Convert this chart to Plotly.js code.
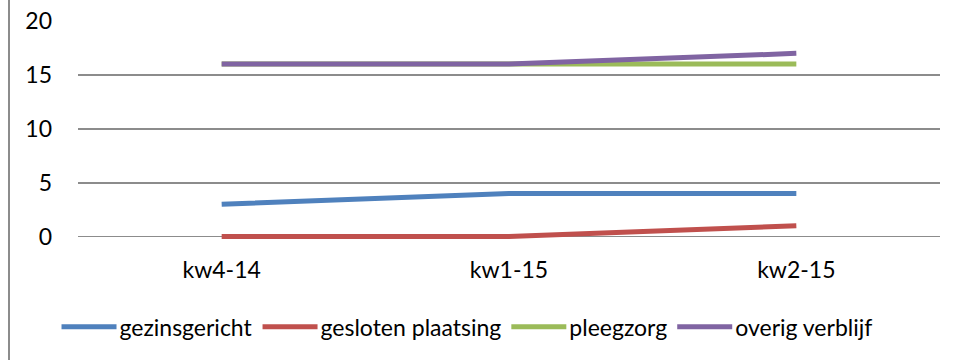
<!DOCTYPE html>
<html>
<head>
<meta charset="utf-8">
<script src="https://cdn.plot.ly/plotly-3.0.1.min.js"></script>
<style>
body{margin:0;padding:0;background:#fff;}
#wrap{position:relative;width:957px;height:360px;}
#chart{width:957px;height:360px;}
#border{position:absolute;left:8px;top:0;width:2px;height:360px;background:#8c8c8c;}
</style>
</head>
<body>
<div id="wrap"><div id="chart"></div><div id="border"></div></div>
<script>
const categories = ["kw4-14", "kw1-15", "kw2-15"];
const gezinsgericht = [3, 4, 4];
const geslotenPlaatsing = [0, 0, 1];
const pleegzorg = [16, 16, 16];
const overigVerblijf = [16, 16, 17];
const seriesNames = ["gezinsgericht", "gesloten plaatsing", "pleegzorg", "overig verblijf"];
const colors = ["#4F81BD", "#C0504D", "#9BBB59", "#8064A2"];
const yTicks = [0, 5, 10, 15, 20];

const allSeries = [gezinsgericht, geslotenPlaatsing, pleegzorg, overigVerblijf];
const traces = allSeries.map((vals, i) => ({
  x: categories,
  y: vals,
  type: "scatter",
  mode: "lines",
  name: seriesNames[i],
  line: {color: colors[i], width: 5}
}));

const tickFont = {family: "Lato, 'Open Sans', sans-serif", size: 23, color: "#000"};
const legendFont = {family: "Lato, 'Open Sans', sans-serif", size: 23, color: "#000"};
const ITEMW = 53;

const layout = {
  width: 957,
  height: 360,
  margin: {l: 78, r: 17, t: 21, b: 117.6},
  paper_bgcolor: "#fff",
  plot_bgcolor: "#fff",
  showlegend: true,
  font: tickFont,
  xaxis: {
    type: "category",
    range: [-0.5, 2.5],
    showgrid: false,
    zeroline: false,
    showline: false,
    ticks: "",
    tickfont: tickFont,
    ticklabelstandoff: 12
  },
  yaxis: {
    range: [-0.5, 20],
    tickvals: yTicks,
    showgrid: true,
    gridcolor: "#8c8c8c",
    gridwidth: 1.6,
    zeroline: false,
    showline: false,
    ticks: "",
    tickfont: tickFont,
    ticklabelstandoff: 25
  },
  legend: {
    orientation: "h",
    xref: "container",
    yref: "container",
    x: 0.488,
    xanchor: "center",
    y: 0.092,
    yanchor: "middle",
    font: legendFont,
    itemwidth: ITEMW,
    tracegroupgap: 0
  }
};

Plotly.newPlot("chart", traces, layout, {displayModeBar: false, staticPlot: true}).then(gd => {
  gd.querySelectorAll(".legend .legendlines path").forEach(p => {
    p.setAttribute("d", "M5,0h" + (ITEMW + 2));
  });
});
</script>
</body>
</html>
